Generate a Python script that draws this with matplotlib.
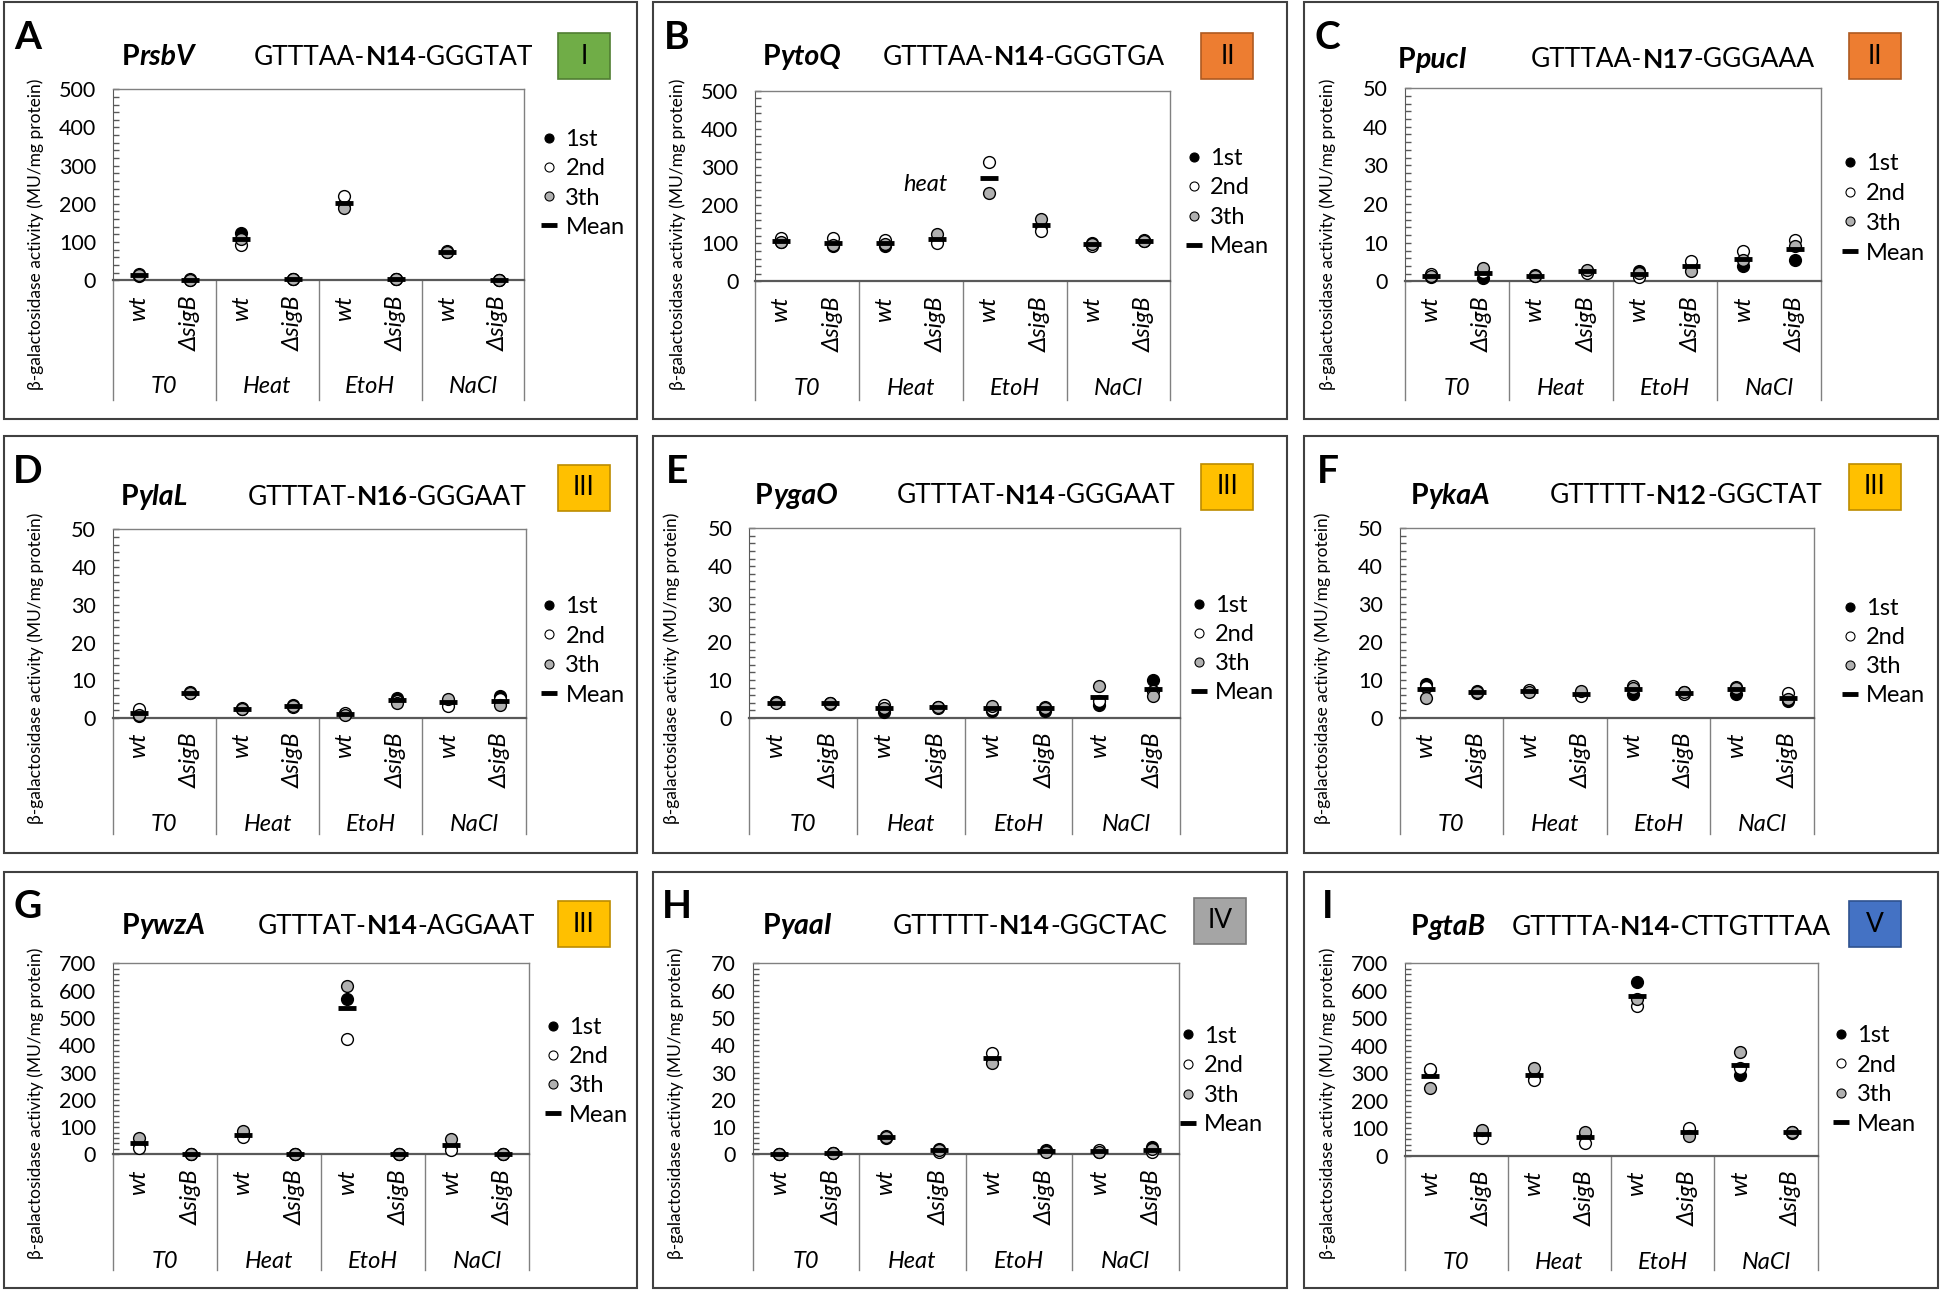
import numpy as np
import matplotlib
matplotlib.use("Agg")
from matplotlib import pyplot as plt
from matplotlib.lines import Line2D
from matplotlib.patches import Rectangle
from matplotlib.ticker import MultipleLocator
from matplotlib.transforms import blended_transform_factory

plt.rcParams["font.family"] = ["Lato", "DejaVu Sans"]

groups = ["T0", "Heat", "EtoH", "NaCl"]
strains = ["wt", "ΔsigB"]
rep_labels = ["1st", "2nd", "3th", "Mean"]
ylabel = "β-galactosidase activity (MU/mg protein)"
nan = float("nan")

# columns: T0 wt, T0 dsigB, Heat wt, Heat dsigB, EtoH wt, EtoH dsigB, NaCl wt, NaCl dsigB
# A  PrsbV
a_1st = [10, 1, 124, 3, 199, 2, 74, 0]
a_2nd = [15, 2, 91, 2, 220, 4, 76, 1]
a_3th = [13, 1, 109, 3, 190, 3, 73, 0]
a_mean = [13, 1, 108, 3, 203, 3, 74, 0.5]
# B  PytoQ
b_1st = [103, 92, 94, 108, nan, 145, 102, 105]
b_2nd = [115, 113, 108, 102, 312, 133, 93, 108]
b_3th = [104, 96, 98, 123, 232, 163, 99, 106]
b_mean = [107, 100, 100, 111, 272, 147, 98, 106]
# C  PpucI
c_1st = [1.2, 1.0, 1.4, 2.6, 2.6, 4.1, 3.9, 5.5]
c_2nd = [2.0, 2.5, 1.6, 2.2, 1.1, 5.4, 7.8, 10.6]
c_3th = [1.5, 3.4, 1.5, 2.9, 2.2, 2.8, 5.5, 9.2]
c_mean = [1.5, 2.3, 1.5, 2.6, 2.0, 4.1, 5.7, 8.4]
# D  PylaL
d_1st = [0.6, 6.5, 2.3, 3.3, 1.0, 5.4, 4.2, 5.8]
d_2nd = [2.3, 6.8, 2.5, 2.9, 1.2, 4.6, 3.2, 4.9]
d_3th = [0.8, 6.6, 2.4, 3.1, 0.9, 4.0, 5.0, 3.3]
d_mean = [1.2, 6.6, 2.4, 3.1, 1.0, 4.7, 4.1, 4.6]
# E  PygaO
e_1st = [4.1, 3.9, 1.6, 2.9, 1.8, 1.9, 3.5, 10.1]
e_2nd = [4.3, 3.7, 3.4, 2.7, 2.4, 3.0, 4.5, 7.2]
e_3th = [3.8, 3.9, 2.5, 2.8, 3.2, 2.6, 8.4, 5.8]
e_mean = [4.0, 3.8, 2.5, 2.8, 2.5, 2.5, 5.5, 7.7]
# F  PykaA
f_1st = [9.0, 7.0, 7.0, 6.0, 6.3, 6.7, 6.3, 4.4]
f_2nd = [8.2, 6.6, 7.3, 5.7, 8.5, 6.4, 8.1, 6.6]
f_3th = [5.3, 6.8, 6.8, 7.2, 8.0, 6.8, 8.0, 4.9]
f_mean = [7.5, 6.8, 7.0, 6.3, 7.6, 6.6, 7.5, 5.3]
# G  PywzA
g_1st = [38, 0.5, 70, 0.3, 569, 0.4, 29, 0.3]
g_2nd = [22, 0.5, 63, 0.5, 422, 0.3, 16, 0.4]
g_3th = [60, 1, 84, 0.4, 618, 0.5, 57, 0.3]
g_mean = [40, 0.7, 72, 0.4, 537, 0.4, 34, 0.3]
# H  PyaaI
h_1st = [0.2, 0.5, 6.0, 1.9, 35.0, 1.5, 0.8, 2.6]
h_2nd = [0.3, 0.6, 6.8, 1.0, 37.0, 1.2, 1.6, 0.8]
h_3th = [0.2, 0.4, 6.2, 1.6, 33.5, 0.8, 1.0, 1.8]
h_mean = [0.2, 0.5, 6.3, 1.5, 35.2, 1.2, 1.1, 1.7]
# I  PgtaB
i_1st = [310, 79, 290, 75, 631, 88, 294, 84]
i_2nd = [315, 64, 274, 46, 546, 100, 320, 86]
i_3th = [248, 94, 318, 86, 570, 70, 379, 85]
i_mean = [291, 79, 294, 69, 582, 86, 331, 85]

panels = [
    dict(letter="A", gene="rsbV", seq=("GTTTAA-", "N14", "-GGGTAT"), cls="I", ymax=500, step=100,
         data=(a_1st, a_2nd, a_3th, a_mean)),
    dict(letter="B", gene="ytoQ", seq=("GTTTAA-", "N14", "-GGGTGA"), cls="II", ymax=500, step=100,
         data=(b_1st, b_2nd, b_3th, b_mean)),
    dict(letter="C", gene="pucI", seq=("GTTTAA-", "N17", "-GGGAAA"), cls="II", ymax=50, step=10,
         data=(c_1st, c_2nd, c_3th, c_mean)),
    dict(letter="D", gene="ylaL", seq=("GTTTAT-", "N16", "-GGGAAT"), cls="III", ymax=50, step=10,
         data=(d_1st, d_2nd, d_3th, d_mean)),
    dict(letter="E", gene="ygaO", seq=("GTTTAT-", "N14", "-GGGAAT"), cls="III", ymax=50, step=10,
         data=(e_1st, e_2nd, e_3th, e_mean)),
    dict(letter="F", gene="ykaA", seq=("GTTTTT-", "N12", "-GGCTAT"), cls="III", ymax=50, step=10,
         data=(f_1st, f_2nd, f_3th, f_mean)),
    dict(letter="G", gene="ywzA", seq=("GTTTAT-", "N14", "-AGGAAT"), cls="III", ymax=700, step=100,
         data=(g_1st, g_2nd, g_3th, g_mean)),
    dict(letter="H", gene="yaaI", seq=("GTTTTT-", "N14", "-GGCTAC"), cls="IV", ymax=70, step=10,
         data=(h_1st, h_2nd, h_3th, h_mean)),
    dict(letter="I", gene="gtaB", seq=("GTTTTA-", "N14-", "CTTGTTTAA"), cls="V", ymax=700, step=100,
         data=(i_1st, i_2nd, i_3th, i_mean)),
]

class_colors = {"I": ("#70AD47", "#507E32"), "II": ("#ED7D31", "#AE5A21"), "III": ("#FFC000", "#BC8C00"),
                "IV": ("#A5A5A5", "#787878"), "V": ("#4472C4", "#2F528F")}
rep_colors = ["black", "white", "#B0B0B0"]

# layout, in px of the 1568x1042 view, relative to each panel frame
frames = [(3, 2), (527, 2), (1052, 2), (3, 352), (527, 352), (1052, 352), (3, 703), (527, 703), (1052, 703)]
frame_w, frame_h = 511, 336
plot_lr = [(88, 420), (82, 417), (81, 417), (88, 421), (77, 425), (77, 411), (88, 424), (80, 424), (81, 414)]
plot_tz = [(70, 224), (71, 225), (69, 225), (75, 227), (74, 227), (74, 227), (74, 228), (74, 228), (74, 229)]
table_bottom = 321
title_xy = [(95, 44), (88, 44), (75, 46), (94, 49), (82, 48), (86, 48), (95, 44), (88, 44), (86, 45)]
seq_x = [202, 185, 183, 197, 196, 198, 205, 193, 167]
class_xy = [(447, 25), (442, 25), (439, 25), (447, 23), (442, 22), (439, 22), (447, 24), (436, 21), (439, 24)]
legend_pos = [(440, 111, 23.3), (436, 125, 24.3), (440, 128, 25.3), (440, 137, 24), (440, 137, 23),
              (440, 139, 23.3), (443, 126, 23.3), (431, 132, 24.3), (433, 132, 24)]

W, H = 1568.0, 1042.0


def fx(x):
    return x / W


def fy(y):
    return 1 - y / H


fig = plt.figure(figsize=(19.44, 12.92), dpi=100)
renderer = fig.canvas.get_renderer()


def rich_text(x, y, parts, size):
    # draws pieces one after the other (bold / italic mixes)
    for s, weight, style in parts:
        t = fig.text(fx(x), fy(y), s, fontsize=size, fontweight=weight, fontstyle=style,
                     ha="left", va="center")
        x += t.get_window_extent(renderer=renderer).width * W / fig.bbox.width


xpos = np.arange(8) + 0.5

for k, p in enumerate(panels):
    bx, by = frames[k]
    fig.add_artist(Rectangle((fx(bx), fy(by + frame_h)), frame_w / W, frame_h / H,
                             transform=fig.transFigure, fill=False, ec="#404040", lw=1.5))
    l, r = plot_lr[k]
    top, zero = plot_tz[k]
    ax = fig.add_axes([fx(bx + l), fy(by + zero), (r - l) / W, (zero - top) / H])
    ax.set_xlim(0, 8)
    ax.set_ylim(0, p["ymax"])
    ax.set_xticks([])
    ax.set_yticks(np.arange(0, p["ymax"] + p["step"] / 2, p["step"]))
    ax.yaxis.set_minor_locator(MultipleLocator(p["step"] / 5))
    ax.tick_params(axis="y", which="both", direction="in", length=4, width=1, color="#595959",
                   labelsize=15.5, pad=12)
    for side in ["top", "right"]:
        ax.spines[side].set_color("#808080")
        ax.spines[side].set_linewidth(1)
    ax.spines["left"].set_color("#595959")
    ax.spines["bottom"].set_color("#595959")
    ax.spines["bottom"].set_linewidth(1.6)

    # replicate points then mean on top
    for j in range(3):
        ax.plot(xpos, p["data"][j], ls="none", marker="o", ms=8.5, mfc=rep_colors[j], mec="black",
                mew=1, clip_on=False, zorder=3 + j)
    ax.plot(xpos, p["data"][3], ls="none", marker="_", ms=13, mew=3.5, color="black",
            clip_on=False, zorder=7)

    # category table under the plot
    tr = blended_transform_factory(ax.transData, fig.transFigure)
    for xl in [0, 2, 4, 6, 8]:
        ax.plot([xl, xl], [fy(by + zero), fy(by + table_bottom)], transform=tr, color="#808080",
                lw=1, clip_on=False)
    for i in range(8):
        ax.text(xpos[i], fy(by + zero + 12), strains[i % 2], transform=tr, rotation=90, ha="center",
                va="top", fontsize=17, fontstyle="italic")
    for g in range(4):
        ax.text(2 * g + 1, fy(by + zero + 86), groups[g], transform=tr, ha="center", va="center",
                fontsize=17, fontstyle="italic")

    fig.text(fx(bx + l - 62), fy(by + 187), ylabel, rotation=90, ha="center", va="center",
             fontsize=12.5)

    # legend
    handles = [Line2D([], [], ls="none", marker="o", ms=6.5, mfc=c, mec="black", mew=0.8)
               for c in rep_colors]
    handles.append(Line2D([], [], ls="none", marker="_", ms=11, mew=3.5, color="black"))
    lx, ly, lstep = legend_pos[k]
    ax.legend(handles, rep_labels, loc="center left",
              bbox_to_anchor=(fx(bx + lx - 6), fy(by + ly + 1.5 * lstep)),
              bbox_transform=fig.transFigure, frameon=False, fontsize=17, handlelength=0.65,
              handletextpad=0.35, borderpad=0, borderaxespad=0,
              labelspacing=0.35 * lstep / 23.5)

    # header: letter, promoter, motif, class box
    fig.text(fx(bx + 19), fy(by + 28), p["letter"], fontsize=28, fontweight="bold",
             ha="center", va="center")
    tx, ty = title_xy[k]
    rich_text(bx + tx, by + ty, [("P", "bold", "normal"), (p["gene"], "bold", "italic")], 20.5)
    s1, s2, s3 = p["seq"]
    rich_text(bx + seq_x[k], by + ty, [(s1, "normal", "normal"), (s2, "bold", "normal"),
                                       (s3, "normal", "normal")], 19)
    cx, cy = class_xy[k]
    fc, ec = class_colors[p["cls"]]
    fig.add_artist(Rectangle((fx(bx + cx), fy(by + cy + 37)), 42 / W, 37 / H,
                             transform=fig.transFigure, fc=fc, ec=ec, lw=1.2))
    fig.text(fx(bx + cx + 21), fy(by + cy + 18.5), p["cls"], fontsize=19, ha="center",
             va="center")

    if p["letter"] == "B":
        ax.text(3.29, 254, "heat", fontsize=17, fontstyle="italic", ha="center", va="center")

fig.savefig("out.png", dpi=100)
